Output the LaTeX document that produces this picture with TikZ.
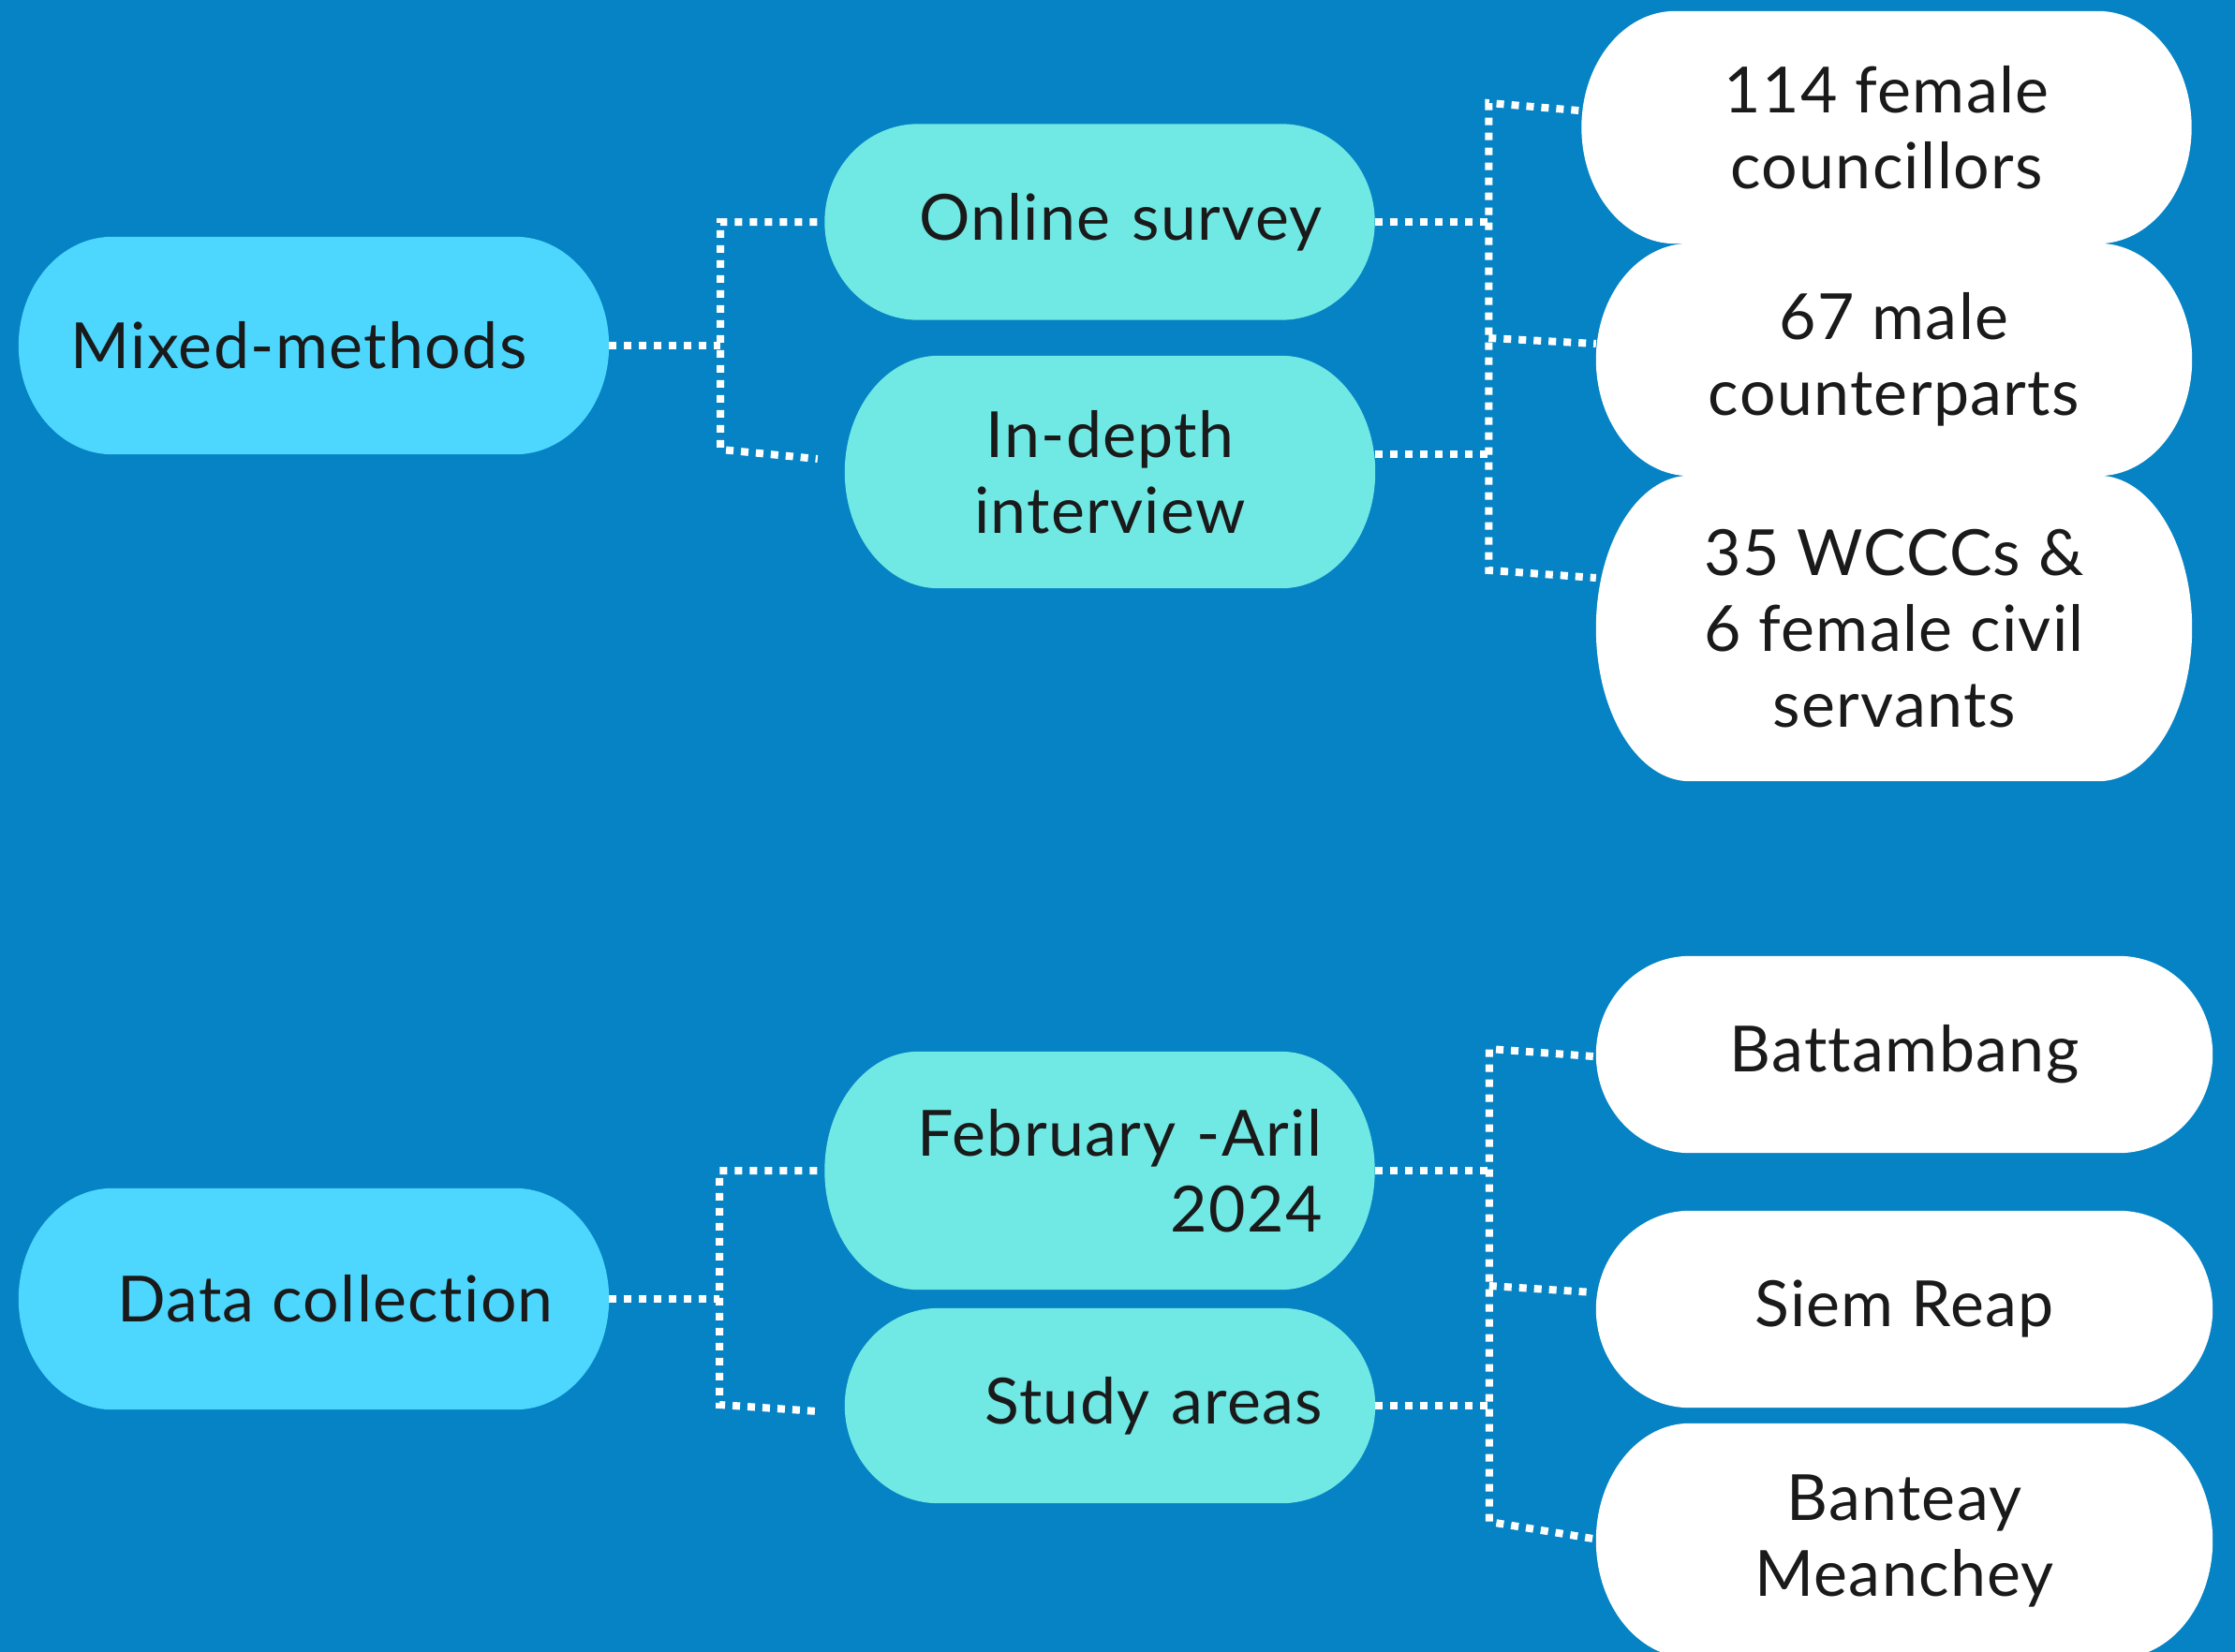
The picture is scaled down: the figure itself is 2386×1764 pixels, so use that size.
\documentclass[tikz,border=0pt]{standalone}
\usepackage{fontspec}
\setmainfont{Lato}[Ligatures=NoCommon,LetterSpace=2]
\usetikzlibrary{positioning,calc}

\definecolor{bgblue}{RGB}{5,131,196}
\definecolor{rootcyan}{RGB}{77,215,254}
\definecolor{midcyan}{RGB}{112,232,228}
\definecolor{inkgrey}{RGB}{26,26,26}

\pgfdeclarelayer{canvas}
\pgfdeclarelayer{pills}
\pgfsetlayers{canvas,pills,main}

% pill with elliptic ends behind a node
\newcommand\pill[2]{%
  \begin{pgfonlayer}{pills}
  \fill[#2] let \p1=(#1.north east), \p2=(#1.south west), \n1={(\y1-\y2)/2} in
    (\x2+100pt,\y1) -- (\x1-100pt,\y1)
    arc[start angle=90,end angle=-90,x radius=100pt,y radius=\n1]
    -- (\x2+100pt,\y2)
    arc[start angle=270,end angle=90,x radius=100pt,y radius=\n1] -- cycle;
  \end{pgfonlayer}}

\begin{document}
\begin{tikzpicture}[x=1pt,y=-1pt,
  blob/.style={inner sep=0pt,text=inkgrey,font=\fontsize{68}{81}\selectfont,align=center},
  root/.style={blob,minimum width=630pt},
  dotline/.style={draw=white,line width=8pt,dash pattern=on 8pt off 8pt}]
  \useasboundingbox (0,0) rectangle (2386,1764);
  \begin{pgfonlayer}{canvas}
    \fill[bgblue] (0,0) rectangle (2386,1764);
  \end{pgfonlayer}

  % design
  \node[root,minimum height=232pt] (mixed) at (335,369) {Mixed-methods\hspace*{32pt}};
  \node[blob,minimum width=587pt,minimum height=209pt,text width=475pt,align=right] (online) at (1174,237) {Online survey};
  \node[blob,minimum width=566pt,minimum height=248pt] (indepth) at (1185,504) {In-depth\\interview};
  \node[blob,minimum width=651pt,minimum height=248pt] (fem) at (2014,136) {114 female\\councillors};
  \node[blob,minimum width=636pt,minimum height=248pt] (male) at (2022,384) {67 male\\counterparts};
  \node[blob,minimum width=636pt,minimum height=326pt] (wccc) at (2022,671) {35 WCCCs \&\\6 female civil\\servants};

  % fieldwork
  \node[root,minimum height=236pt] (datac) at (335,1387) {\hspace*{46pt}Data collection};
  \node[blob,minimum width=587pt,minimum height=254pt,text width=475pt,align=right] (feb) at (1174,1250) {February -Aril\\2024};
  \node[blob,minimum width=566pt,minimum height=208pt,text width=454pt,align=right] (study) at (1185,1501) {Study areas};
  \node[blob,minimum width=658pt,minimum height=210pt] (batt) at (2033,1126) {Battambang};
  \node[blob,minimum width=658pt,minimum height=210pt] (siem) at (2033,1398) {Siem Reap};
  \node[blob,minimum width=658pt,minimum height=250pt] (bant) at (2033,1645) {Banteay\\Meanchey};

  \pill{mixed}{rootcyan}
  \pill{datac}{rootcyan}
  \foreach \nd in {online,indepth,feb,study} {\pill{\nd}{midcyan}}
  \foreach \nd in {fem,male,wccc,batt,siem,bant} {\pill{\nd}{white}}

  % connectors, upper tree
  \draw[dotline] (mixed.east) -- ++(119,0) coordinate (mj);
  \draw[dotline] ([xshift=-8pt]online.west) -- (mj |- online.west) -- ([shift={(0,111)}]mj) -- ([shift={(-29,-14)}]indepth.west);
  \draw[dotline] (online.east) -- ++(122,0);
  \draw[dotline] ([shift={(0,-19)}]indepth.east) -- ++(122,0);
  \draw[dotline] ([shift={(-3,-18)}]fem.west) -- ++(-96,-8) coordinate (rtop) -- ([shift={(0,499)}]rtop) -- ([shift={(0,-54)}]wccc.west);
  \draw[dotline] ([shift={(0,251)}]rtop) -- ([shift={(0,-17)}]male.west);

  % connectors, lower tree
  \draw[dotline] (datac.east) -- ++(118,0) coordinate (dj);
  \draw[dotline] ([xshift=-8pt]feb.west) -- (dj |- feb.west) -- ([shift={(0,113)}]dj) -- ([shift={(-29,6)}]study.west);
  \draw[dotline] (feb.east) -- ++(122,0);
  \draw[dotline] (study.east) -- ++(122,0);
  \draw[dotline] ([shift={(-3,2)}]batt.west) -- ++(-111,-8) coordinate (btop) -- ([shift={(0,505)}]btop) -- ([shift={(-3,-2)}]bant.west);
  \draw[dotline] ([shift={(0,253)}]btop) -- ([shift={(-3,-18)}]siem.west);
\end{tikzpicture}
\end{document}
